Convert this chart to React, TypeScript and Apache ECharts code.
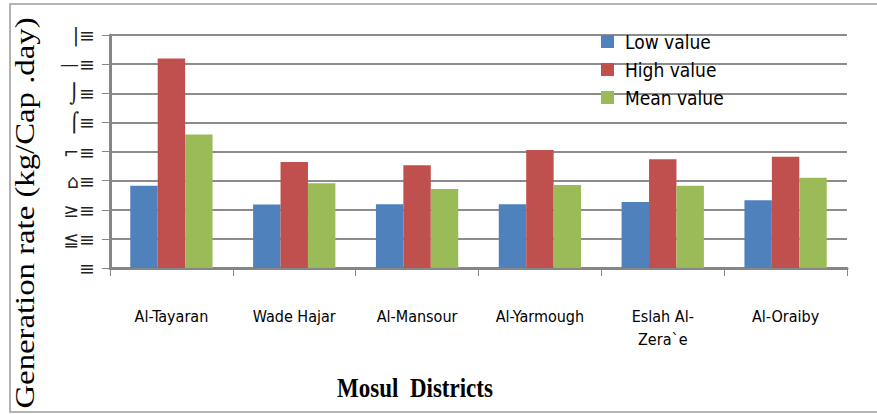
import React, { useEffect, useRef } from "react";
import * as echarts from "echarts";

const categories = ["Al-Tayaran", "Wade Hajar", "Al-Mansour", "Al-Yarmough", "Eslah Al-\nZera`e", "Al-Oraiby"];
const lowValues = [0.282, 0.218, 0.219, 0.219, 0.227, 0.233];
const highValues = [0.719, 0.364, 0.353, 0.405, 0.373, 0.382];
const meanValues = [0.458, 0.291, 0.271, 0.285, 0.282, 0.31];
const tickLabels = ["≡", "≦≡", "≥≡", "⌂≡", "⌐≡", "⌠≡", "⌡≡", "—≡", "|≡"];

export default function App() {
  const ref = useRef<HTMLDivElement>(null);
  useEffect(() => {
    const chart = echarts.init(ref.current!, null, { renderer: "svg" });
    const narrow = "'DejaVu Sans Condensed', 'Liberation Sans Narrow', sans-serif";
    chart.setOption({
      animation: false,
      grid: { left: 110, right: 30, top: 35, bottom: 146 },
      legend: {
        orient: "vertical",
        left: 596,
        top: 27,
        itemWidth: 13,
        itemHeight: 13,
        itemGap: 9,
        icon: "rect",
        textStyle: { fontFamily: narrow, fontSize: 19, color: "#000", padding: [0, 0, 0, 6] },
      },
      xAxis: {
        type: "category",
        data: categories,
        axisLine: { lineStyle: { color: "#868686", width: 3 } },
        axisTick: { show: true, length: 8, lineStyle: { color: "#868686", width: 1 } },
        axisLabel: { margin: 37, fontFamily: narrow, fontSize: 16, color: "#000", lineHeight: 23 },
      },
      yAxis: {
        type: "value",
        min: 0,
        max: 0.8,
        interval: 0.1,
        axisLine: { show: true, lineStyle: { color: "#868686", width: 3 } },
        axisTick: { show: true, length: 8, lineStyle: { color: "#868686", width: 1 } },
        splitLine: { lineStyle: { color: "#8c8c8c", width: 2 } },
        axisLabel: {
          margin: 15,
          fontFamily: "'DejaVu Sans', sans-serif",
          fontSize: 19,
          color: "#222",
          formatter: (v: number) => tickLabels[Math.round(v * 10)] ?? "",
        },
      },
      graphic: [
        {
          type: "rect",
          shape: { x: 10, y: 4, width: 900, height: 408 },
          style: { fill: "none", stroke: "#9a9a9a", lineWidth: 1.5 },
          silent: true,
        },
        {
          type: "text",
          x: 25,
          y: 213,
          rotation: Math.PI / 2,
          scaleX: 1.17,
          style: {
            text: "Generation rate (kg/Cap .day)",
            fontFamily: "'Liberation Serif', serif",
            fontSize: 28,
            fill: "#000",
            textAlign: "center",
            textVerticalAlign: "middle",
          },
        },
        {
          type: "text",
          x: 415,
          y: 388,
          scaleY: 1.15,
          style: {
            text: "Mosul  Districts",
            fontFamily: "'Liberation Serif', serif",
            fontWeight: "bold",
            fontSize: 23,
            fill: "#000",
            textAlign: "center",
            textVerticalAlign: "middle",
          },
        },
      ],
      series: [
        { name: "Low value", type: "bar", data: lowValues, itemStyle: { color: "#4F81BD" }, barGap: "0%", barCategoryGap: "33%" },
        { name: "High value", type: "bar", data: highValues, itemStyle: { color: "#C0504D" } },
        { name: "Mean value", type: "bar", data: meanValues, itemStyle: { color: "#9BBB59" } },
      ],
    });
    return () => chart.dispose();
  }, []);
  return <div ref={ref} style={{ width: 877, height: 414, position: "absolute", left: 0, top: 0 }} />;
}
